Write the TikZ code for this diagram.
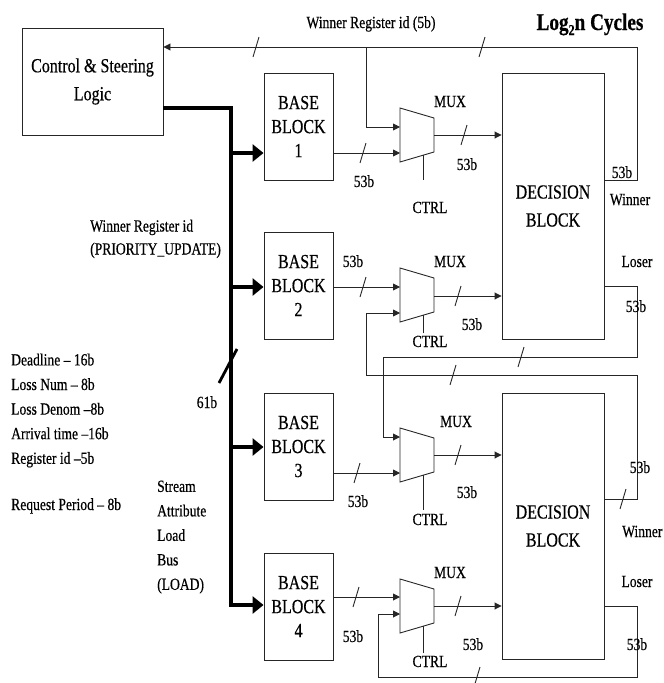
\documentclass[tikz,border=0pt]{standalone}
\usepackage{fontspec}
\setmainfont{Liberation Serif}[FakeStretch=0.8,FakeBold=0.5]
\usetikzlibrary{arrows.meta}

\newcommand\drawmux[5]{%
  \draw[sig] (400,#2) -- (434,{#2+10}) -- (434,{#2+44}) -- (400,{#2+54}) -- cycle;
  \coordinate (#1-i1) at (400,#3);
  \coordinate (#1-i2) at (400,#4);
  \coordinate (#1-o) at (434,#5);
  \coordinate (#1-c) at (423,{#2+47.2});
}
\newcommand\bitmark[2]{\draw[sig] (#1,#2) ++(-3,10) -- ++(6,-20);}

\begin{document}
\begin{tikzpicture}[x=1pt,y=-1pt,
  sig/.style={line width=0.9pt, draw=black!85},
  arr/.style={sig,-{Triangle[length=7pt,width=7pt]}},
  bus/.style={line width=3.4pt, draw=black},
  busarr/.style={bus,-{Triangle[length=11pt,width=17pt]}},
  box/.style={draw=black!85, line width=0.9pt, inner sep=0pt, align=center},
  lbl/.style={font=\fontsize{17}{24}\selectfont, inner sep=0pt},
]
\useasboundingbox (0,0) rectangle (664,683);

% blocks
\node[box, minimum width=141pt, minimum height=107pt, font=\fontsize{20}{28}\selectfont] (ctrl) at (92.5,81.5) {Control \& Steering\\Logic};
\node[box, minimum width=69pt, minimum height=107pt, font=\fontsize{20}{24}\selectfont] (bb1) at (298.5,126.5) {BASE\\BLOCK\\1};
\node[box, minimum width=69pt, minimum height=107pt, font=\fontsize{20}{24}\selectfont] (bb2) at (298.5,285.5) {BASE\\BLOCK\\2};
\node[box, minimum width=69pt, minimum height=107pt, font=\fontsize{20}{24}\selectfont] (bb3) at (298.5,446.5) {BASE\\BLOCK\\3};
\node[box, minimum width=69pt, minimum height=107pt, font=\fontsize{20}{24}\selectfont] (bb4) at (298.5,606.5) {BASE\\BLOCK\\4};
\node[box, minimum width=102pt, minimum height=266pt, font=\fontsize{20}{28}\selectfont] (db1) at (553,206) {DECISION\\BLOCK};
\node[box, minimum width=102pt, minimum height=266pt, font=\fontsize{20}{28}\selectfont] (db2) at (553,526) {DECISION\\BLOCK};

% muxes
\drawmux{m1}{108}{127}{153}{135}
\drawmux{m2}{268}{287}{313}{296}
\drawmux{m3}{428}{437}{473}{455}
\drawmux{m4}{579}{597}{614}{606}

% bus
\coordinate (busTop) at (231,108);
\coordinate (busBot) at (231,605);
\coordinate (j1) at (231,153);
\coordinate (j2) at (231,287);
\coordinate (j3) at (231,447);
\draw[busarr] (ctrl.east |- busTop) -- (busTop) -- (busBot) -- (bb4.west |- busBot);
\draw[busarr] (j1) -- (bb1.west |- j1);
\draw[busarr] (j2) -- (bb2.west |- j2);
\draw[busarr] (j3) -- (bb3.west |- j3);
\draw[line width=2.8pt] (219,383) -- (237,349);

% base block -> mux, mux -> decision
\draw[arr] (bb1.east |- m1-i2) -- (m1-i2);
\draw[arr] (m1-o) -- (db1.west |- m1-o);
\draw[arr] (bb2.east |- m2-i1) -- (m2-i1);
\draw[arr] (m2-o) -- (db1.west |- m2-o);
\draw[arr] (bb3.east |- m3-i2) -- (m3-i2);
\draw[arr] (m3-o) -- (db2.west |- m3-o);
\draw[arr] (bb4.east |- m4-i1) -- (m4-i1);
\draw[arr] (m4-o) -- (db2.west |- m4-o);

% CTRL lines
\draw[sig] (m1-c) -- (423,180);
\draw[sig] (m2-c) -- (423,333);
\draw[sig] (m3-c) -- (423,510);
\draw[sig] (m4-c) -- (423,653);

% feedback paths
\coordinate (t1) at (637,47);
\coordinate (br1) at (366,47);
\draw[arr] (db1.east |- 0,180) -| (t1) -- (ctrl.east |- t1);
\draw[arr] (br1) |- (m1-i1);

\coordinate (l1a) at (637,357);
\coordinate (l1b) at (383,357);
\draw[arr] (db1.east |- 0,286) -| (l1a) -- (l1b) |- (m3-i1);

\coordinate (w2a) at (637,375);
\coordinate (w2b) at (366,375);
\draw[arr] (db2.east |- 0,499) -| (w2a) -- (w2b) |- (m2-i2);

\coordinate (l2a) at (637,677);
\coordinate (l2b) at (378,677);
\draw[arr] (db2.east |- 0,606) -| (l2a) -- (l2b) |- (m4-i2);

% bit-width marks
\bitmark{256}{47}
\bitmark{482}{47}
\bitmark{363}{153}
\bitmark{464}{135}
\bitmark{363}{287}
\bitmark{458}{296}
\bitmark{521}{357}
\bitmark{453}{375}
\bitmark{357}{473}
\bitmark{458}{455}
\bitmark{623}{499}
\bitmark{356}{597}
\bitmark{458}{606}
\bitmark{477}{677}

% labels
\node[lbl, anchor=base] (wrid) at (371,28) {Winner Register id (5b)};
\node[font=\fontsize{24}{28}\selectfont\bfseries, inner sep=0pt, anchor=base] (title) at (590,30) {Log\raisebox{-5pt}{\fontsize{15}{15}\selectfont 2}n Cycles};

\node[lbl, anchor=base] (mx1) at (450,107) {MUX};
\node[lbl, anchor=base] (mx2) at (450,267) {MUX};
\node[lbl, anchor=base] (mx3) at (456,427) {MUX};
\node[lbl, anchor=base] (mx4) at (450,578) {MUX};

\node[lbl, anchor=base] (c1) at (430,213) {CTRL};
\node[lbl, anchor=base] (c2) at (430,347) {CTRL};
\node[lbl, anchor=base] (c3) at (430,525) {CTRL};
\node[lbl, anchor=base] (c4) at (430,667) {CTRL};

\node[lbl, anchor=base] (b1) at (364,187) {53b};
\node[lbl, anchor=base] (b2) at (353,267) {53b};
\node[lbl, anchor=base] (b3) at (358,507) {53b};
\node[lbl, anchor=base] (b4) at (353,642) {53b};
\node[lbl, anchor=base] (o1) at (467,170) {53b};
\node[lbl, anchor=base] (o2) at (472,330) {53b};
\node[lbl, anchor=base] (o3) at (467,498) {53b};
\node[lbl, anchor=base] (o4) at (473,650) {53b};
\node[lbl, anchor=base] (r1) at (622,178) {53b};
\node[lbl, anchor=base] (r2) at (636,312) {53b};
\node[lbl, anchor=base] (r3) at (640,473) {53b};
\node[lbl, anchor=base] (r4) at (637,650) {53b};

\node[lbl, anchor=base] (win1) at (630,205) {Winner};
\node[lbl, anchor=base] (los1) at (637,267) {Loser};
\node[lbl, anchor=base west] (win2) at (622,537) {Winner};
\node[lbl, anchor=base] (los2) at (637,587) {Loser};

\node[lbl, anchor=base] (w61) at (207,408) {61b};

\node[lbl, font=\fontsize{17}{23}\selectfont, align=left, anchor=north west] (prio) at (90,219.5) {Winner Register id\\(PRIORITY\_UPDATE)};
\node[lbl, font=\fontsize{17}{24.6}\selectfont, align=left, anchor=north west] (attrs) at (11,353.4) {Deadline – 16b\\Loss Num – 8b\\Loss Denom –8b\\Arrival time –16b\\Register id –5b};
\node[lbl, anchor=base west] (req) at (11,510) {Request Period – 8b};
\node[lbl, font=\fontsize{17}{24.5}\selectfont, align=left, anchor=north west] (sal) at (157,480.4) {Stream\\Attribute\\Load\\Bus\\(LOAD)};
\end{tikzpicture}
\end{document}
